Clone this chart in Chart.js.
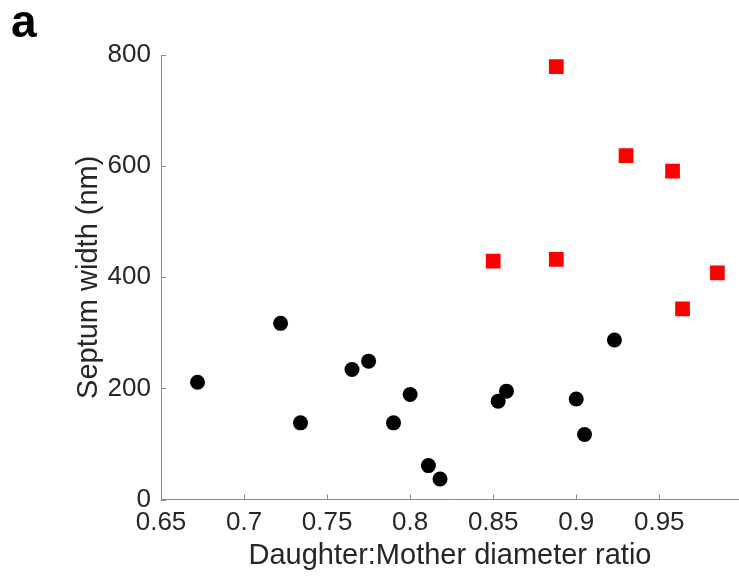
<!DOCTYPE html>
<html>
<head>
<meta charset="utf-8">
<script src="https://cdn.jsdelivr.net/npm/chart.js@4/dist/chart.umd.min.js"></script>
<style>
  html, body { margin: 0; padding: 0; background: #fff; overflow: hidden; }
  #wrap { width: 739px; height: 578px; position: relative; }
</style>
</head>
<body>
<div id="wrap"><canvas id="chart" width="739" height="578"></canvas></div>
<script>
// black circles: ratio vs septum width
const circleRatio = [0.672, 0.722, 0.734, 0.765, 0.775, 0.790, 0.800, 0.811, 0.818, 0.853, 0.858, 0.900, 0.905, 0.923];
const circleWidth = [211, 317, 138, 234, 249, 138, 189, 61, 37, 177, 195, 181, 117, 287];

// red squares
const squareRatio = [0.850, 0.888, 0.888, 0.930, 0.958, 0.964, 0.985];
const squareWidth = [429, 432, 779, 619, 591, 343, 408];

const xTicks = [0.65, 0.7, 0.75, 0.8, 0.85, 0.9, 0.95];
const yTicks = [0, 200, 400, 600, 800];

const textColor = '#262626';
const axisColor = '#8a8a8a';
const fontFamily = '"Liberation Sans", Arial, Helvetica, sans-serif';

const toPoints = (xs, ys) => xs.map((x, i) => ({ x: x, y: ys[i] }));

// MATLAB style ticks pointing into the plot
const innerTicks = {
  id: 'innerTicks',
  afterDatasetsDraw(chart) {
    const { ctx, chartArea, scales } = chart;
    const len = 5;
    ctx.save();
    ctx.strokeStyle = axisColor;
    ctx.lineWidth = 1;
    ctx.beginPath();
    xTicks.forEach((v) => {
      const px = Math.round(scales.x.getPixelForValue(v)) + 0.5;
      ctx.moveTo(px, chartArea.bottom);
      ctx.lineTo(px, chartArea.bottom - len);
    });
    yTicks.forEach((v) => {
      const py = Math.round(scales.y.getPixelForValue(v)) + 0.5;
      ctx.moveTo(chartArea.left, py);
      ctx.lineTo(chartArea.left + len, py);
    });
    ctx.stroke();
    ctx.restore();
  },
};

// panel letter
const panelLabel = {
  id: 'panelLabel',
  afterDraw(chart) {
    const ctx = chart.ctx;
    ctx.save();
    ctx.fillStyle = '#000';
    ctx.font = 'bold 46px ' + fontFamily;
    ctx.textAlign = 'left';
    ctx.textBaseline = 'alphabetic';
    ctx.fillText('a', 11, 37);
    ctx.restore();
  },
};

new Chart(document.getElementById('chart'), {
  type: 'scatter',
  data: {
    datasets: [
      {
        label: 'circles',
        data: toPoints(circleRatio, circleWidth),
        pointStyle: 'circle',
        pointRadius: 7.5,
        pointHoverRadius: 7.5,
        pointBorderWidth: 0,
        backgroundColor: '#000000',
        borderColor: '#000000',
      },
      {
        label: 'squares',
        data: toPoints(squareRatio, squareWidth),
        pointStyle: 'rect',
        pointRadius: 10.4,
        pointHoverRadius: 10.4,
        pointBorderWidth: 0,
        backgroundColor: '#ff0000',
        borderColor: '#ff0000',
      },
    ],
  },
  options: {
    responsive: false,
    animation: false,
    layout: { autoPadding: false, padding: { top: 55, right: 0, left: 0, bottom: 0 } },
    plugins: {
      legend: { display: false },
      tooltip: { enabled: false },
    },
    scales: {
      x: {
        type: 'linear',
        min: 0.65,
        max: 0.998,
        afterBuildTicks: (axis) => { axis.ticks = xTicks.map((v) => ({ value: v })); },
        afterFit: (axis) => {
          axis.height = 78.5;
          axis.paddingLeft = 0;
          axis.paddingRight = 0;
        },
        grid: { display: false, drawTicks: false },
        border: { display: true, color: axisColor, width: 1 },
        ticks: {
          color: textColor,
          font: { family: fontFamily, size: 26 },
          padding: 8,
          maxRotation: 0,
          callback: (v) => String(v),
        },
        title: {
          display: true,
          text: 'Daughter:Mother diameter ratio',
          color: textColor,
          font: { family: fontFamily, size: 29 },
          padding: { top: 0, bottom: 5 },
        },
      },
      y: {
        type: 'linear',
        min: 0,
        max: 800,
        afterBuildTicks: (axis) => { axis.ticks = yTicks.map((v) => ({ value: v })); },
        afterFit: (axis) => {
          axis.width = 161;
          axis.paddingTop = 0;
          axis.paddingBottom = 0;
        },
        grid: { display: false, drawTicks: false },
        border: { display: true, color: axisColor, width: 1 },
        ticks: {
          color: textColor,
          font: { family: fontFamily, size: 26 },
          padding: 10,
          callback: (v) => String(v),
        },
        title: {
          display: true,
          text: 'Septum width (nm)',
          color: textColor,
          font: { family: fontFamily, size: 29 },
          padding: { top: 72, bottom: 0 },
        },
      },
    },
  },
  plugins: [innerTicks, panelLabel],
});
</script>
</body>
</html>
